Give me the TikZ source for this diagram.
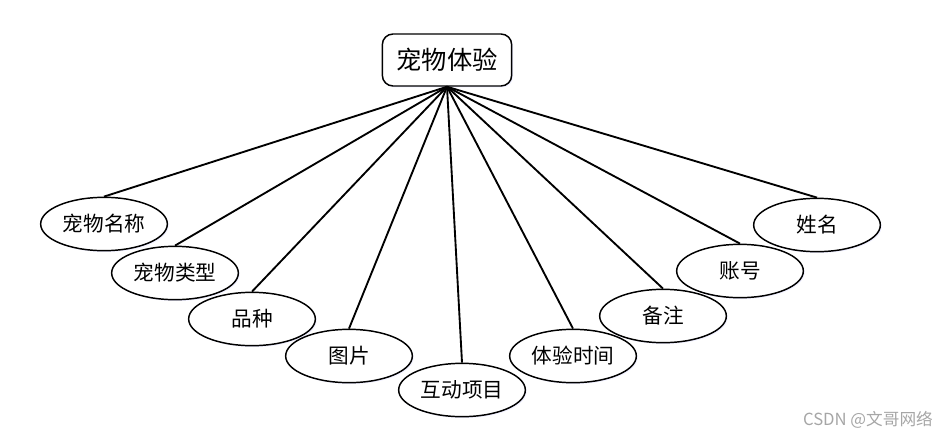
\documentclass[tikz,border=0pt]{standalone}
\usepackage{fontspec}
\setmainfont{Noto Sans CJK SC}
\usetikzlibrary{shapes.geometric,shadows}
\begin{document}
\begin{tikzpicture}[x=0.75pt, y=-0.75pt, font=\fontsize{15.5}{18}\selectfont]
		\tikzstyle{entite} = [rectangle, draw=black, line width=1.1pt, rounded corners=8pt, minimum width=97pt, minimum height=39pt, inner sep=0pt, font=\fontsize{19}{22}\selectfont, fill=white, drop shadow={opacity=0.25, fill=blue!25, shadow xshift=1pt, shadow yshift=-1pt}]
		\tikzstyle{attribut} = [ellipse, draw=black, line width=1.1pt, minimum width=95pt, minimum height=40pt, inner sep=0pt, fill=white, drop shadow={opacity=0.25, fill=blue!25, shadow xshift=1pt, shadow yshift=-1pt}]
		\tikzstyle{lien} = [line width=1.4pt]
		\useasboundingbox (0,0) rectangle (952,439);
		\node[entite] (exp) at (447,60) {宠物体验};
		\node[attribut] (nom) at (104,224) {宠物名称};
		\node[attribut] (type) at (175,273) {宠物类型};
		\node[attribut] (race) at (252,319) {品种};
		\node[attribut] (img) at (349,356) {图片};
		\node[attribut] (projet) at (462,390) {互动项目};
		\node[attribut] (temps) at (573,356) {体验时间};
		\node[attribut] (note) at (663,316) {备注};
		\node[attribut] (compte) at (740,271) {账号};
		\node[attribut] (nomfam) at (817,225) {姓名};
		\draw[lien] (exp.south) -- (nom.north);
		\draw[lien] (exp.south) -- (type.north);
		\draw[lien] (exp.south) -- (race.north);
		\draw[lien] (exp.south) -- (img.north);
		\draw[lien] (exp.south) -- (projet.north);
		\draw[lien] (exp.south) -- (temps.north);
		\draw[lien] (exp.south) -- (note.north);
		\draw[lien] (exp.south) -- (compte.north);
		\draw[lien] (exp.south) -- (nomfam.north);
		\node[text=black!35, font=\fontsize{12.5}{15}\selectfont] (marque) at (868,420) {CSDN @文哥网络};
	\end{tikzpicture}
\end{document}
